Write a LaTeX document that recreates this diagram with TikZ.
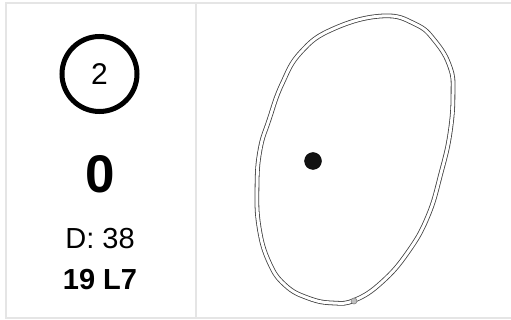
\documentclass[tikz,border=0pt]{standalone}
\usepackage{fontspec}
\setmainfont{Liberation Sans}
\tikzset{
    rahmen/.style={line width=2pt, gray!20},
    zahl/.style={font=\fontsize{29}{30}\selectfont, inner sep=0pt},
}
\begin{document}
\begin{tikzpicture}[x=1pt,y=-1pt]
\useasboundingbox (0,0) rectangle (511,320);

% Rahmen und Trennlinie
\draw[rahmen] (6,3) rectangle (516,318);
\draw[rahmen] (196,3) -- (196,318);

% Nummer im Kreis
\node[zahl, font=\fontsize{30}{31}\selectfont, circle, draw, line width=5pt, minimum size=75pt] (nr) at (99.5,74) {2};

% Punkte, Distanz und Lage
\node[zahl, font=\bfseries\fontsize{53}{54}\selectfont] (punkte) at (100,174) {0};
\node[zahl] (dist) at (100,239) {D: 38};
\node[zahl, font=\bfseries\fontsize{29}{30}\selectfont] (lage) at (100,280) {19 L7};

% Umriss (doppelte Linie)
\draw[double=white, double distance=3pt, line width=0.8pt, black!75]
  plot[smooth cycle, tension=0.75] coordinates {
    (382,16) (333,29) (301,52) (282,84) (269,120) (260,150) (257,187)
    (259,227) (269,262) (285,285) (308,298) (333,303) (355,300)
    (382,282) (408,252) (428,216) (441,173) (450,133) (453,93)
    (450,67) (435,41) (415,24)};

% Ball und Marke
\node[circle, fill=black!93, draw=black, minimum size=17pt, inner sep=0pt] (ball) at (313,161) {};
\node[circle, fill=gray!50, draw=gray, line width=0.6pt, minimum size=6pt, inner sep=0pt] (marke) at (354,301) {};

\end{tikzpicture}
\end{document}
